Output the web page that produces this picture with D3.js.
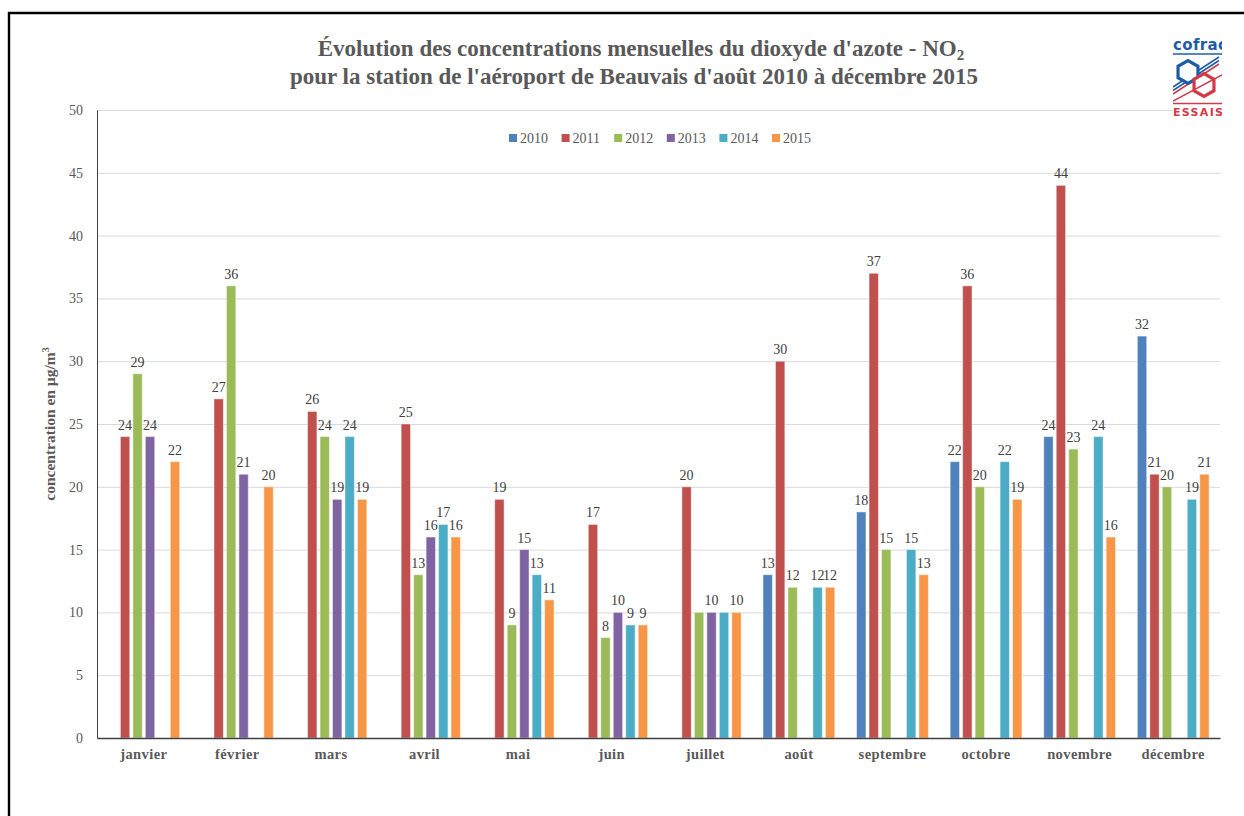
<!DOCTYPE html>
<html><head><meta charset="utf-8">
<script src="https://cdn.jsdelivr.net/npm/d3@7"></script>
<style>
html,body{margin:0;padding:0;background:#fff;}
svg{display:block;}
</style></head>
<body>
<svg id="chart" width="1244" height="816"></svg>
<script>
const months = ["janvier","février","mars","avril","mai","juin","juillet","août","septembre","octobre","novembre","décembre"];
const years = ["2010","2011","2012","2013","2014","2015"];
const colors = ["#4F81BD","#C0504D","#9BBB59","#8064A2","#4BACC6","#F79646"];
const v2010 = [null,null,null,null,null,null,null,13,18,22,24,32];
const v2011 = [24,27,26,25,19,17,20,30,37,36,44,21];
const v2012 = [29,36,24,13,9,8,10,12,15,20,23,20];
const v2013 = [24,21,19,16,15,10,10,null,null,null,null,null];
const v2014 = [null,null,24,17,13,9,10,12,15,22,24,19];
const v2015 = [22,20,19,16,11,9,10,12,13,19,16,21];
const yTicks = [0,5,10,15,20,25,30,35,40,45,50];
const series = [v2010,v2011,v2012,v2013,v2014,v2015];
// value labels not shown in the original (overlapping labels hidden)
const hiddenLabels = ["juillet|2012","juillet|2014"];

(function(){
const svg = d3.select("#chart");
const pL = 97, pR = 1220, pT = 110, pB = 738;
const tf = "'Liberation Serif', 'Times New Roman', serif";

const x0 = d3.scaleBand().domain(months).range([pL,pR]).paddingInner(0.2).paddingOuter(0.1);
const x1 = d3.scaleBand().domain(years).range([0,x0.bandwidth()]).paddingInner(0.25).paddingOuter(0.125);
const y = d3.scaleLinear().domain([0,50]).range([pB,pT]);

// frame
svg.append("path").attr("d","M9,816 L9,13 L1244,13").attr("fill","none").attr("stroke","#000").attr("stroke-width",2.4);

// gridlines
svg.append("g").selectAll("line").data(yTicks.filter(d=>d>0)).join("line")
  .attr("x1",pL).attr("x2",pR).attr("y1",d=>y(d)+0.5).attr("y2",d=>y(d)+0.5)
  .attr("stroke","#D9D9D9").attr("stroke-width",1);

// y axis
const yAxis = svg.append("g").attr("transform",`translate(${pL},0)`)
  .call(d3.axisLeft(y).tickValues(yTicks).tickSize(0).tickPadding(14));
yAxis.select(".domain").attr("stroke","#404040").attr("stroke-width",1);
yAxis.selectAll("text").attr("font-family",tf).attr("font-size",14).attr("fill","#595959");

// bars
const data = [];
months.forEach((m,i)=>years.forEach((yr,j)=>{ if(series[j][i]!=null) data.push({m,yr,v:series[j][i],c:colors[j]}); }));
svg.append("g").selectAll("rect").data(data).join("rect")
  .attr("x",d=>x0(d.m)+x1(d.yr)).attr("width",x1.bandwidth())
  .attr("y",d=>y(d.v)).attr("height",d=>pB-y(d.v))
  .attr("fill",d=>d.c).attr("stroke","#fff").attr("stroke-opacity",0.45).attr("stroke-width",1);

// value labels
svg.append("g").selectAll("text").data(data.filter(d=>!hiddenLabels.includes(d.m+"|"+d.yr))).join("text")
  .attr("x",d=>x0(d.m)+x1(d.yr)+x1.bandwidth()/2).attr("y",d=>y(d.v)-7)
  .attr("text-anchor","middle").attr("font-family",tf)
  .attr("font-size",14).attr("fill","#404040").text(d=>d.v);

// x axis
const xAxis = svg.append("g").attr("transform",`translate(0,${pB})`)
  .call(d3.axisBottom(x0).tickSize(0).tickPadding(11));
xAxis.select(".domain").attr("stroke","#404040").attr("stroke-width",1.6);
xAxis.selectAll("text").attr("font-family",tf).attr("font-size",14.5).attr("letter-spacing",0.4)
  .attr("font-weight","bold").attr("fill","#595959");

// y axis title
const yt = svg.append("text").attr("transform",`translate(55,${(pT+pB)/2}) rotate(-90)`)
  .attr("text-anchor","middle").attr("font-family",tf)
  .attr("font-size",15.5).attr("font-weight","bold").attr("fill","#595959");
yt.append("tspan").text("concentration en µg/m");
yt.append("tspan").attr("font-size",10).attr("dy",-6).text("3");

// title
const t1 = svg.append("text").attr("x",641).attr("y",56).attr("text-anchor","middle")
  .attr("font-family",tf).attr("font-size",23).attr("font-weight","bold").attr("fill","#595959");
t1.append("tspan").text("Évolution des concentrations mensuelles du dioxyde d'azote - NO");
t1.append("tspan").attr("font-size",15).attr("dy",4).text("2");
svg.append("text").attr("x",634).attr("y",84).attr("text-anchor","middle")
  .attr("font-family",tf).attr("font-size",23).attr("font-weight","bold").attr("fill","#595959")
  .text("pour la station de l'aéroport de Beauvais d'août 2010 à décembre 2015");

// legend
const lg = svg.append("g").selectAll("g").data(years).join("g")
  .attr("transform",(d,i)=>`translate(${509+i*52.6},138)`);
lg.append("rect").attr("x",0).attr("y",-4).attr("width",8).attr("height",8).attr("fill",(d,i)=>colors[i]);
lg.append("text").attr("x",11).attr("y",5).attr("font-family",tf).attr("font-size",14).attr("fill","#595959").text(d=>d);

// cofrac logo
const logo = svg.append("g").attr("transform","translate(1173,33)");
logo.append("defs").append("clipPath").attr("id","lc").append("rect").attr("x",0).attr("y",0).attr("width",49).attr("height",84);
const lgc = logo.append("g").attr("clip-path","url(#lc)");
lgc.append("rect").attr("width",49).attr("height",84).attr("fill","#fff");
lgc.append("text").attr("x",0).attr("y",17).attr("font-family","'DejaVu Sans', sans-serif").attr("font-weight","bold")
  .attr("font-size",15).attr("fill","#1F5CA8").attr("textLength",54).text("cofrac");
lgc.append("line").attr("x1",0).attr("x2",49).attr("y1",21).attr("y2",21).attr("stroke","#1F5CA8").attr("stroke-width",1.5);
[0,3.5,7].forEach(o=>{
  lgc.append("line").attr("x1",0).attr("y1",54+o).attr("x2",46).attr("y2",24+o).attr("stroke",o<4?"#1F5CA8":"#D33A48").attr("stroke-width",1.5);
});
const hex = (cx,cy,r)=>d3.range(6).map(k=>[cx+r*Math.cos(Math.PI/6+k*Math.PI/3), cy+r*Math.sin(Math.PI/6+k*Math.PI/3)]);
lgc.append("polygon").attr("points",hex(15,39,11.5).join(" ")).attr("fill","#fff").attr("stroke","#1F5CA8").attr("stroke-width",3.2);
lgc.append("polygon").attr("points",hex(31,52,11.5).join(" ")).attr("fill","#fff").attr("stroke","#D33A48").attr("stroke-width",3.2);
lgc.append("line").attr("x1",0).attr("y1",68).attr("x2",49).attr("y2",42).attr("stroke","#D33A48").attr("stroke-width",1.5);
lgc.append("line").attr("x1",0).attr("x2",49).attr("y1",70.5).attr("y2",70.5).attr("stroke","#D33A48").attr("stroke-width",1.5);
lgc.append("text").attr("x",0).attr("y",83).attr("font-family","'DejaVu Sans', sans-serif").attr("font-weight","bold")
  .attr("font-size",11).attr("fill","#D33A48").attr("textLength",50).text("ESSAIS");
})();
</script>
</body></html>
